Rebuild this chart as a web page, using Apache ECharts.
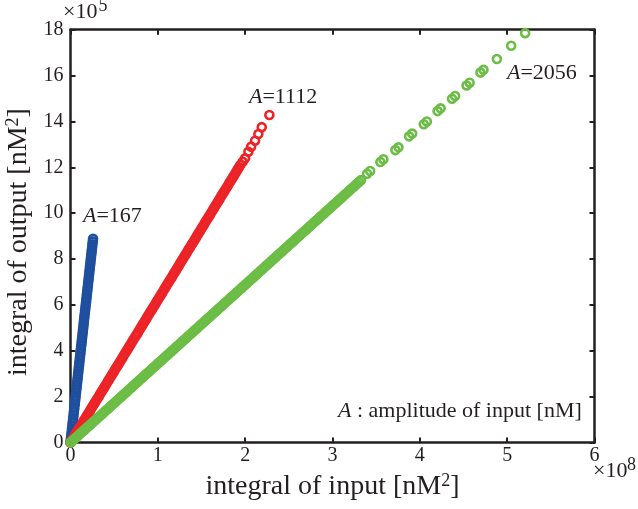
<!DOCTYPE html>
<html>
<head>
<meta charset="utf-8">
<title>integral of output vs integral of input</title>
<script src="https://cdn.jsdelivr.net/npm/echarts@6/dist/echarts.min.js"></script>
<style>
  html, body { margin: 0; padding: 0; background: #ffffff; }
  #chart { width: 638px; height: 509px; }
</style>
</head>
<body>
<div id="chart"></div>
<script>
// Axis ticks (x in units of 10^8, y in units of 10^5)
const xTicks = [0, 1, 2, 3, 4, 5, 6];
const yTicks = [0, 2, 4, 6, 8, 10, 12, 14, 16, 18];

// [integral of input (x10^8), integral of output (x10^5)]
// A = 167
const bluePoints = [
  [0,0],[0.003,0.12],[0.007,0.24],[0.010,0.36],[0.014,0.48],[0.017,0.60],[0.021,0.72],[0.024,0.84],[0.028,0.96],[0.031,1.08],
  [0.035,1.20],[0.038,1.32],[0.042,1.44],[0.045,1.56],[0.049,1.68],[0.052,1.80],[0.056,1.92],[0.059,2.04],[0.063,2.16],[0.066,2.28],
  [0.070,2.40],[0.073,2.52],[0.077,2.64],[0.080,2.76],[0.084,2.88],[0.087,3.00],[0.091,3.12],[0.094,3.24],[0.098,3.36],[0.101,3.48],
  [0.105,3.60],[0.108,3.72],[0.112,3.84],[0.115,3.96],[0.119,4.08],[0.122,4.20],[0.126,4.32],[0.129,4.44],[0.133,4.56],[0.136,4.68],
  [0.140,4.80],[0.143,4.92],[0.147,5.04],[0.150,5.16],[0.153,5.28],[0.157,5.40],[0.160,5.52],[0.164,5.64],[0.167,5.76],[0.171,5.88],
  [0.174,6.00],[0.178,6.12],[0.181,6.24],[0.185,6.36],[0.188,6.48],[0.192,6.60],[0.195,6.72],[0.199,6.84],[0.202,6.96],[0.206,7.08],
  [0.209,7.20],[0.213,7.32],[0.216,7.44],[0.220,7.56],[0.223,7.68],[0.227,7.80],[0.230,7.92],[0.234,8.04],[0.237,8.16],[0.241,8.28],
  [0.244,8.40],[0.248,8.52],[0.251,8.64],[0.255,8.76],[0.258,8.88]
];

// A = 1112
const redPoints = [
  [0,0],[0.016,0.1],[0.032,0.2],[0.048,0.3],[0.064,0.4],[0.080,0.5],[0.096,0.6],[0.113,0.7],[0.129,0.8],[0.145,0.9],
  [0.161,1.0],[0.177,1.1],[0.193,1.2],[0.209,1.3],[0.225,1.4],[0.241,1.5],[0.257,1.6],[0.273,1.7],[0.289,1.8],[0.305,1.9],
  [0.322,2.0],[0.338,2.1],[0.354,2.2],[0.370,2.3],[0.386,2.4],[0.402,2.5],[0.418,2.6],[0.434,2.7],[0.450,2.8],[0.466,2.9],
  [0.482,3.0],[0.498,3.1],[0.514,3.2],[0.531,3.3],[0.547,3.4],[0.563,3.5],[0.579,3.6],[0.595,3.7],[0.611,3.8],[0.627,3.9],
  [0.643,4.0],[0.659,4.1],[0.675,4.2],[0.691,4.3],[0.707,4.4],[0.723,4.5],[0.740,4.6],[0.756,4.7],[0.772,4.8],[0.788,4.9],
  [0.804,5.0],[0.820,5.1],[0.836,5.2],[0.852,5.3],[0.868,5.4],[0.884,5.5],[0.900,5.6],[0.916,5.7],[0.932,5.8],[0.949,5.9],
  [0.965,6.0],[0.981,6.1],[0.997,6.2],[1.013,6.3],[1.029,6.4],[1.045,6.5],[1.061,6.6],[1.077,6.7],[1.093,6.8],[1.109,6.9],
  [1.125,7.0],[1.141,7.1],[1.158,7.2],[1.174,7.3],[1.190,7.4],[1.206,7.5],[1.222,7.6],[1.238,7.7],[1.254,7.8],[1.270,7.9],
  [1.286,8.0],[1.302,8.1],[1.318,8.2],[1.334,8.3],[1.350,8.4],[1.367,8.5],[1.383,8.6],[1.399,8.7],[1.415,8.8],[1.431,8.9],
  [1.447,9.0],[1.463,9.1],[1.479,9.2],[1.495,9.3],[1.511,9.4],[1.527,9.5],[1.543,9.6],[1.559,9.7],[1.576,9.8],[1.592,9.9],
  [1.608,10.0],[1.624,10.1],[1.640,10.2],[1.656,10.3],[1.672,10.4],[1.688,10.5],[1.704,10.6],[1.720,10.7],[1.736,10.8],[1.752,10.9],
  [1.768,11.0],[1.785,11.1],[1.801,11.2],[1.817,11.3],[1.833,11.4],[1.849,11.5],[1.865,11.6],[1.881,11.7],[1.897,11.8],[1.913,11.9],
  [1.929,12.0],[1.945,12.1],
  [1.972,12.24],[1.999,12.39],[2.037,12.68],[2.068,12.90],[2.113,13.16],[2.151,13.45],[2.190,13.75],[2.277,14.28]
];

// A = 2056
const greenPoints = [
  [0,0],[0.023,0.08],[0.047,0.16],[0.070,0.24],[0.093,0.32],[0.116,0.40],[0.140,0.48],[0.163,0.56],[0.186,0.64],[0.209,0.72],
  [0.233,0.80],[0.256,0.88],[0.279,0.96],[0.302,1.04],[0.326,1.12],[0.349,1.20],[0.372,1.28],[0.395,1.36],[0.419,1.44],[0.442,1.52],
  [0.465,1.60],[0.488,1.68],[0.512,1.76],[0.535,1.84],[0.558,1.92],[0.581,2.00],[0.605,2.08],[0.628,2.16],[0.651,2.24],[0.674,2.32],
  [0.698,2.40],[0.721,2.48],[0.744,2.56],[0.767,2.64],[0.791,2.72],[0.814,2.80],[0.837,2.88],[0.860,2.96],[0.884,3.04],[0.907,3.12],
  [0.930,3.20],[0.953,3.28],[0.977,3.36],[1.000,3.44],[1.023,3.52],[1.047,3.60],[1.070,3.68],[1.093,3.76],[1.116,3.84],[1.140,3.92],
  [1.163,4.00],[1.186,4.08],[1.209,4.16],[1.233,4.24],[1.256,4.32],[1.279,4.40],[1.302,4.48],[1.326,4.56],[1.349,4.64],[1.372,4.72],
  [1.395,4.80],[1.419,4.88],[1.442,4.96],[1.465,5.04],[1.488,5.12],[1.512,5.20],[1.535,5.28],[1.558,5.36],[1.581,5.44],[1.605,5.52],
  [1.628,5.60],[1.651,5.68],[1.674,5.76],[1.698,5.84],[1.721,5.92],[1.744,6.00],[1.767,6.08],[1.791,6.16],[1.814,6.24],[1.837,6.32],
  [1.860,6.40],[1.884,6.48],[1.907,6.56],[1.930,6.64],[1.953,6.72],[1.977,6.80],[2.000,6.88],[2.023,6.96],[2.047,7.04],[2.070,7.12],
  [2.093,7.20],[2.116,7.28],[2.140,7.36],[2.163,7.44],[2.186,7.52],[2.209,7.60],[2.233,7.68],[2.256,7.76],[2.279,7.84],[2.302,7.92],
  [2.326,8.00],[2.349,8.08],[2.372,8.16],[2.395,8.24],[2.419,8.32],[2.442,8.40],[2.465,8.48],[2.488,8.56],[2.512,8.64],[2.535,8.72],
  [2.558,8.80],[2.581,8.88],[2.605,8.96],[2.628,9.04],[2.651,9.12],[2.674,9.20],[2.698,9.28],[2.721,9.36],[2.744,9.44],[2.767,9.52],
  [2.791,9.60],[2.814,9.68],[2.837,9.76],[2.860,9.84],[2.884,9.92],[2.907,10.00],[2.930,10.08],[2.953,10.16],[2.977,10.24],[3.000,10.32],
  [3.023,10.40],[3.047,10.48],[3.070,10.56],[3.093,10.64],[3.116,10.72],[3.140,10.80],[3.163,10.88],[3.186,10.96],[3.209,11.04],[3.233,11.12],
  [3.256,11.20],[3.279,11.28],[3.302,11.36],[3.326,11.44],
  [3.396,11.72],[3.431,11.84],[3.548,12.23],[3.583,12.35],[3.720,12.75],[3.755,12.87],[3.877,13.35],[3.912,13.47],
  [4.045,13.88],[4.080,14.00],[4.203,14.45],[4.238,14.57],[4.369,14.99],[4.404,15.11],[4.535,15.57],[4.570,15.69],
  [4.694,16.13],[4.729,16.25],[4.882,16.72],[5.046,17.30],[5.206,17.85]
];

const seriesNames = ['A=167', 'A=1112', 'A=2056'];
const seriesColors = ['#1f4f9f', '#ec2327', '#6cbd45'];

const FONT = '"Liberation Serif", "Times New Roman", serif';
const INK = '#231f20';

const chart = echarts.init(document.getElementById('chart'), null, { renderer: 'canvas' });

function frameAxis(position, ticks, extra) {
  return Object.assign({
    type: 'value',
    position: position,
    min: ticks[0],
    max: ticks[ticks.length - 1],
    interval: ticks[1] - ticks[0],
    axisLine: { show: true, onZero: false, lineStyle: { color: INK, width: 2.5 } },
    axisTick: { show: true, inside: true, length: 5, lineStyle: { color: INK, width: 2 } },
    axisLabel: { show: false },
    splitLine: { show: false }
  }, extra || {});
}

function nameStyle(padding) {
  return {
    fontFamily: FONT,
    fontSize: 28,
    color: INK,
    padding: padding,
    rich: { sup: { fontFamily: FONT, fontSize: 18, color: INK, verticalAlign: 'top' } }
  };
}

function scatterSeries(name, data, color) {
  return {
    type: 'scatter',
    name: name,
    data: data,
    symbol: 'circle',
    symbolSize: 8,
    clip: false,
    silent: true,
    itemStyle: { color: 'rgba(0,0,0,0)', borderColor: color, borderWidth: 2.6, opacity: 1 },
    xAxisIndex: 0,
    yAxisIndex: 0
  };
}

function annotation(left, middle, rest) {
  return {
    type: 'text',
    x: left,
    y: middle,
    silent: true,
    style: {
      text: '{i|A}' + rest,
      fill: INK,
      fontFamily: FONT,
      fontSize: 22,
      align: 'left',
      verticalAlign: 'middle',
      rich: { i: { fontFamily: FONT, fontSize: 22, fontStyle: 'italic', fill: INK } }
    }
  };
}

function plainText(left, middle, text, size) {
  return {
    type: 'text',
    x: left,
    y: middle,
    silent: true,
    style: { text: text, fill: INK, fontFamily: FONT, fontSize: size, align: 'left', verticalAlign: 'middle' }
  };
}

const option = {
  animation: false,
  backgroundColor: '#ffffff',
  grid: { left: 70.5, right: 43.5, top: 29.7, bottom: 66.5, containLabel: false, outerBoundsMode: 'none' },
  xAxis: [
    frameAxis('bottom', xTicks, {
      axisLabel: { show: true, margin: 3, color: INK, fontFamily: FONT, fontSize: 20 },
      name: 'integral of input [nM{sup|2}]',
      nameLocation: 'middle',
      nameGap: 30,
      nameTextStyle: nameStyle([0, 0, 0, 0])
    }),
    frameAxis('top', xTicks)
  ],
  yAxis: [
    frameAxis('left', yTicks, {
      axisLabel: { show: true, margin: 7, color: INK, fontFamily: FONT, fontSize: 20 },
      name: 'integral of output [nM{sup|2}]',
      nameLocation: 'middle',
      nameGap: 35,
      nameTextStyle: nameStyle([0, 12, 0, 0])
    }),
    frameAxis('right', yTicks)
  ],
  series: [
    scatterSeries(seriesNames[0], bluePoints, seriesColors[0]),
    scatterSeries(seriesNames[1], redPoints, seriesColors[1]),
    scatterSeries(seriesNames[2], greenPoints, seriesColors[2])
  ],
  graphic: [
    plainText(63, 12, '\u00d710', 22),
    plainText(98.5, 6, '5', 18),
    plainText(593, 471, '\u00d710', 22),
    plainText(627, 465.5, '8', 18),
    annotation(83, 216, '=167'),
    annotation(249, 97.5, '=1112'),
    annotation(507, 73, '=2056'),
    annotation(338, 411, ' : amplitude of input [nM]')
  ]
};

chart.setOption(option);
</script>
</body>
</html>
